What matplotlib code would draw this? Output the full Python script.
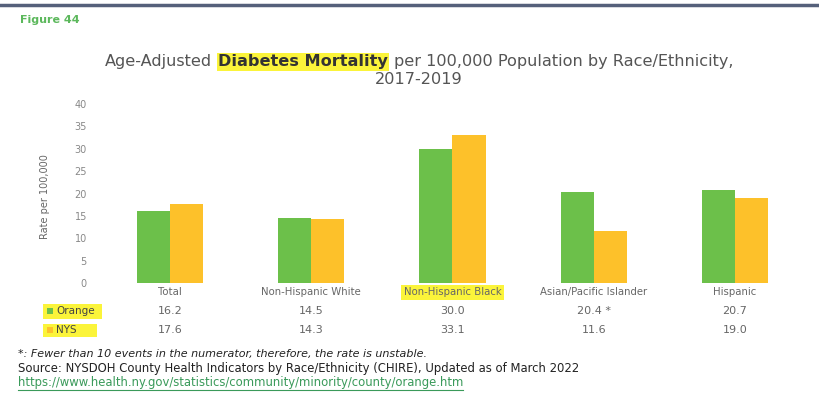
import numpy as np
import matplotlib
matplotlib.use('Agg')
import matplotlib.pyplot as plt
import matplotlib.transforms as mtransforms
from matplotlib.patches import Rectangle
from matplotlib.lines import Line2D

# données
categories = ['Total', 'Non-Hispanic White', 'Non-Hispanic Black',
              'Asian/Pacific Islander', 'Hispanic']
orange_vals = [16.2, 14.5, 30.0, 20.4, 20.7]
nys_vals = [17.6, 14.3, 33.1, 11.6, 19.0]
orange_labels = ['16.2', '14.5', '30.0', '20.4 *', '20.7']
nys_labels = ['17.6', '14.3', '33.1', '11.6', '19.0']
y_ticks = [0, 5, 10, 15, 20, 25, 30, 35, 40]

GREEN = '#6cc04a'
GOLD = '#fdc12a'
HIGHLIGHT = '#fbf43a'
GREY = '#666666'

plt.rcParams['font.family'] = ['DejaVu Sans']

fig = plt.figure(figsize=(8.2, 3.94), dpi=100)
ax = fig.add_axes([0.1212, 0.2817, 0.9824 - 0.1212, 0.736 - 0.2817])

x = np.arange(len(categories))
w = 0.235
ax.bar(x - w / 2, orange_vals, w, color=GREEN)
ax.bar(x + w / 2, nys_vals, w, color=GOLD)

ax.set_xlim(-0.5, len(categories) - 0.5)
ax.set_ylim(0, 40)
ax.set_yticks(y_ticks)
ax.tick_params(axis='y', length=0, labelsize=7, labelcolor='#888888', pad=9)
ax.tick_params(axis='x', length=0, labelsize=7.3, labelcolor=GREY, pad=3)
ax.set_xticks(x)
ax.set_xticklabels(categories)
ax.get_xticklabels()[2].set_bbox(dict(boxstyle='square,pad=0.25', fc=HIGHLIGHT, ec='none'))
for s in ax.spines.values():
    s.set_visible(False)

fig.text(0.055, 0.5, 'Rate per 100,000', rotation=90, ha='center', va='center',
         fontsize=7, color=GREY)

# tableau de valeurs sous le graphique
trans = mtransforms.blended_transform_factory(ax.transData, fig.transFigure)
for i in range(len(categories)):
    ax.text(x[i], 0.211, orange_labels[i], transform=trans, ha='center', va='center',
            fontsize=8, color=GREY)
    ax.text(x[i], 0.1624, nys_labels[i], transform=trans, ha='center', va='center',
            fontsize=8, color=GREY)

# étiquettes des lignes, surlignées en jaune
W, H = 820, 394
fig.patches.append(Rectangle((43 / W, 1 - 319 / H), 59 / W, 15 / H,
                             transform=fig.transFigure, fc=HIGHLIGHT, ec='none'))
fig.patches.append(Rectangle((43 / W, 1 - 337 / H), 54 / W, 13 / H,
                             transform=fig.transFigure, fc=HIGHLIGHT, ec='none'))
fig.patches.append(Rectangle((47 / W, 1 - 314 / H), 6 / W, 6 / H,
                             transform=fig.transFigure, fc=GREEN, ec='none'))
fig.patches.append(Rectangle((47 / W, 1 - 333 / H), 6 / W, 6 / H,
                             transform=fig.transFigure, fc=GOLD, ec='none'))
fig.text(56 / W, 0.211, 'Orange', ha='left', va='center', fontsize=7.5, color='#444444')
fig.text(56 / W, 0.1624, 'NYS', ha='left', va='center', fontsize=7.5, color='#444444')

# ligne en haut
fig.add_artist(Line2D([0, 1], [0.987, 0.987], transform=fig.transFigure,
                      color='#55607a', linewidth=2.5))
fig.text(20 / W, 0.949, 'Figure 44', ha='left', va='center', fontsize=8,
         color='#5cb85c', fontweight='bold')

# titre en plusieurs morceaux pour surligner "Diabetes Mortality"
pieces = [('Age-Adjusted', 'normal', None),
          ('Diabetes Mortality', 'bold', HIGHLIGHT),
          ('per 100,000 Population by Race/Ethnicity,', 'normal', None)]
y1 = 0.843
fig.canvas.draw()
renderer = fig.canvas.get_renderer()
texts = []
for txt, weight, hl in pieces:
    t = fig.text(0, y1, txt, ha='left', va='center', fontsize=11.6,
                 color='#555555' if hl is None else '#333333', fontweight=weight)
    if hl:
        t.set_bbox(dict(boxstyle='square,pad=0.08', fc=hl, ec='none'))
    texts.append(t)
gap = 6
widths = [t.get_window_extent(renderer).width for t in texts]
total = sum(widths) + gap * (len(texts) - 1)
xpos = (W * 0.511 - total / 2)
for t, wd in zip(texts, widths):
    t.set_x(xpos / W)
    xpos += wd + gap
fig.text(0.511, 0.797, '2017-2019', ha='center', va='center', fontsize=11.6, color='#555555')

# notes en bas
fig.text(18 / W, 0.1015, '*: Fewer than 10 events in the numerator, therefore, the rate is unstable.',
         ha='left', va='center', fontsize=8, style='italic', color='#222222')
fig.text(18 / W, 0.0635, 'Source: NYSDOH County Health Indicators by Race/Ethnicity (CHIRE), Updated as of March 2022',
         ha='left', va='center', fontsize=8.4, color='#222222')
url = fig.text(18 / W, 0.028, 'https://www.health.ny.gov/statistics/community/minority/county/orange.htm',
               ha='left', va='center', fontsize=8.4, color='#3a9a5a')
bb = url.get_window_extent(renderer)
fig.add_artist(Line2D([bb.x0 / W, bb.x1 / W], [(bb.y0 - 1) / H, (bb.y0 - 1) / H],
                      transform=fig.transFigure, color='#3a9a5a', linewidth=0.8))

fig.savefig('out.png', dpi=100)
